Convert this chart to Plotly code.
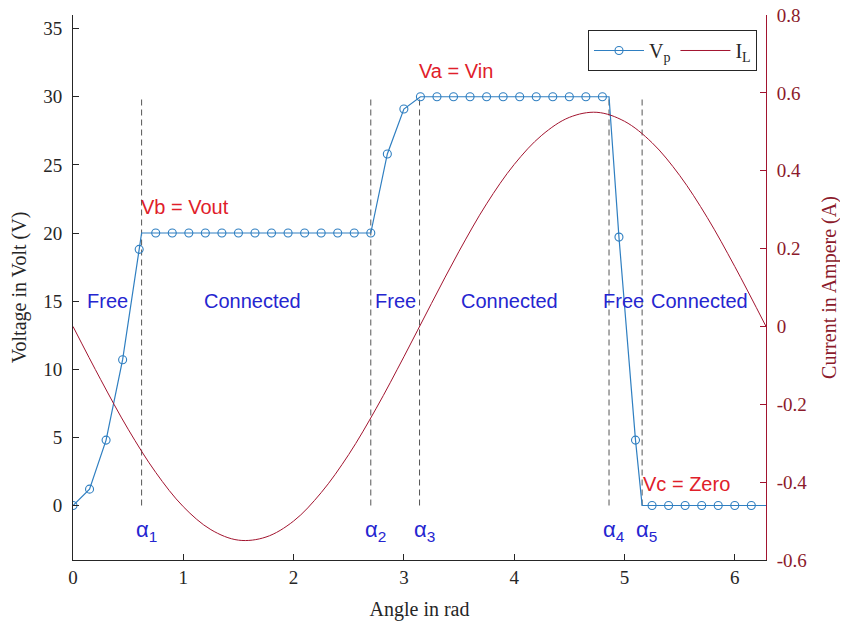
import plotly.graph_objects as go

# ---------------- data ----------------
# Vp samples (markers)
vp_x = [0.00, 0.15, 0.30, 0.45, 0.60, 0.75, 0.90, 1.05, 1.20, 1.35,
        1.50, 1.65, 1.80, 1.95, 2.10, 2.25, 2.40, 2.55, 2.70, 2.85,
        3.00, 3.15, 3.30, 3.45, 3.60, 3.75, 3.90, 4.05, 4.20, 4.35,
        4.50, 4.65, 4.80, 4.95, 5.10, 5.25, 5.40, 5.55, 5.70, 5.85,
        6.00, 6.15]
vp_y = [0.0, 1.2, 4.8, 10.7, 18.8, 20, 20, 20, 20, 20,
        20, 20, 20, 20, 20, 20, 20, 20, 20, 25.8,
        29.1, 30, 30, 30, 30, 30, 30, 30, 30, 30,
        30, 30, 30, 19.7, 4.8, 0, 0, 0, 0, 0,
        0, 0]
# extra corner points of the Vp line (no markers)
corner_x = [0.622, 4.86, 5.16, 6.2832]
corner_y = [20, 30, 0, 0]

# inductor current I_L
il_x = [0.00, 0.25, 0.50, 0.75, 1.00, 1.25, 1.50, 1.75, 2.00, 2.25,
        2.50, 2.75, 3.00, 3.25, 3.50, 3.75, 4.00, 4.25, 4.50, 4.75,
        5.00, 5.25, 5.50, 5.75, 6.00, 6.2832]
il_y = [0.000, -0.136, -0.264, -0.375, -0.463, -0.522, -0.549, -0.541, -0.500, -0.427,
        -0.329, -0.210, -0.078, 0.059, 0.193, 0.315, 0.416, 0.491, 0.537, 0.550,
        0.527, 0.472, 0.388, 0.280, 0.154, 0.000]

# switching angles
alpha_x = [0.622, 2.70, 3.142, 4.86, 5.16]
alpha_labels = ["α<sub>1</sub>", "α<sub>2</sub>", "α<sub>3</sub>", "α<sub>4</sub>", "α<sub>5</sub>"]
alpha_line_y = [0, 30]

# state labels
state_text = ["Free", "Connected", "Free", "Connected", "Free", "Connected"]
state_x = [0.31, 1.63, 2.92, 3.96, 4.99, 5.68]
state_y = 15

level_text = ["Vb = Vout", "Va = Vin", "Vc = Zero"]
level_x = [0.60, 3.12, 5.15]
level_y = [21.9, 31.9, 1.6]

x_ticks = [0, 1, 2, 3, 4, 5, 6]
yl_ticks = [0, 5, 10, 15, 20, 25, 30, 35]
yr_ticks = [-0.6, -0.4, -0.2, 0, 0.2, 0.4, 0.6, 0.8]
yr_ticktext = ["-0.6", "-0.4", "-0.2", "0", "0.2", "0.4", "0.6", "0.8"]

# ---------------- styles ----------------
BLUE = "#2F7FC1"
RED = "#A2142F"
TXT_BLUE = "#2525D0"
TXT_RED = "#E0202A"
SERIF = "Liberation Serif"
SANS = "Liberation Sans"

# merge line points
pts = sorted(list(zip(vp_x, vp_y)) + list(zip(corner_x, corner_y)))
line_x = [p[0] for p in pts]
line_y = [p[1] for p in pts]

fig = go.Figure()

# dashed switching lines
for a in alpha_x:
    fig.add_trace(go.Scatter(x=[a, a], y=alpha_line_y, mode="lines",
                             line=dict(color="#555555", width=1, dash="6px,4px"),
                             showlegend=False, hoverinfo="skip"))

fig.add_trace(go.Scatter(x=line_x, y=line_y, mode="lines",
                         line=dict(color=BLUE, width=1.2), showlegend=False))
fig.add_trace(go.Scatter(x=vp_x, y=vp_y, mode="markers",
                         marker=dict(symbol="circle-open", size=8, color=BLUE,
                                     line=dict(width=1.1, color=BLUE)),
                         showlegend=False))
# legend entry for Vp
fig.add_trace(go.Scatter(x=[None], y=[None], mode="lines+markers", name="V<sub>p</sub>",
                         line=dict(color=BLUE, width=1.2),
                         marker=dict(symbol="circle-open", size=8, color=BLUE,
                                     line=dict(width=1.1, color=BLUE))))

fig.add_trace(go.Scatter(x=il_x, y=il_y, mode="lines", name="I<sub>L</sub>",
                         line=dict(color=RED, width=1, shape="spline"),
                         yaxis="y2"))

# texts
for t, x in zip(state_text, state_x):
    fig.add_annotation(x=x, y=state_y, text=t, showarrow=False,
                       font=dict(family=SANS, size=20, color=TXT_BLUE),
                       xanchor="center", yanchor="middle")
for t, x, y in zip(level_text, level_x, level_y):
    fig.add_annotation(x=x, y=y, text=t, showarrow=False,
                       font=dict(family=SANS, size=20, color=TXT_RED),
                       xanchor="left", yanchor="middle")
for t, x in zip(alpha_labels, alpha_x):
    fig.add_annotation(x=x, y=-1.9, text=t, showarrow=False,
                       font=dict(family=SANS, size=22, color=TXT_BLUE),
                       xanchor="left", yanchor="middle", xshift=-8)

fig.update_layout(
    width=840, height=620,
    margin=dict(l=65, r=82, t=7, b=68),
    paper_bgcolor="white", plot_bgcolor="white",
    font=dict(family=SERIF, size=19, color="#262626"),
    xaxis=dict(range=[0, 6.2832], tickvals=x_ticks, ticks="inside", ticklen=6,
               tickcolor="#262626", showline=True, linecolor="#262626", linewidth=1,
               showgrid=False, zeroline=False, mirror=False, automargin=False,
               ticklabeloverflow="allow",
               title=dict(text="Angle in rad", font=dict(size=20))),
    yaxis=dict(range=[-4, 36], tickvals=yl_ticks, ticks="inside", ticklen=6,
               tickcolor="#262626", showline=True, linecolor="#262626", linewidth=1,
               showgrid=False, zeroline=False, ticklabelstandoff=6, automargin=False,
               ticklabeloverflow="allow",
               title=dict(text="Voltage in Volt (V)", font=dict(size=20))),
    yaxis2=dict(range=[-0.6, 0.8], tickvals=yr_ticks, ticktext=yr_ticktext,
                overlaying="y", side="right",
                ticks="inside", ticklen=6, tickcolor=RED, showline=True, linecolor=RED,
                linewidth=1, showgrid=False, zeroline=False, ticklabelstandoff=6,
                automargin=False, ticklabeloverflow="allow",
                tickfont=dict(color="#8B1A2B"),
                title=dict(text="Current in Ampere (A)", font=dict(size=20, color="#8B1A2B"))),
    legend=dict(orientation="h", x=0.987, y=0.9725, xanchor="right", yanchor="top",
                bgcolor="white", bordercolor="#262626", borderwidth=1,
                font=dict(family=SERIF, size=20), itemwidth=50),
)

fig.write_html("out.html")
